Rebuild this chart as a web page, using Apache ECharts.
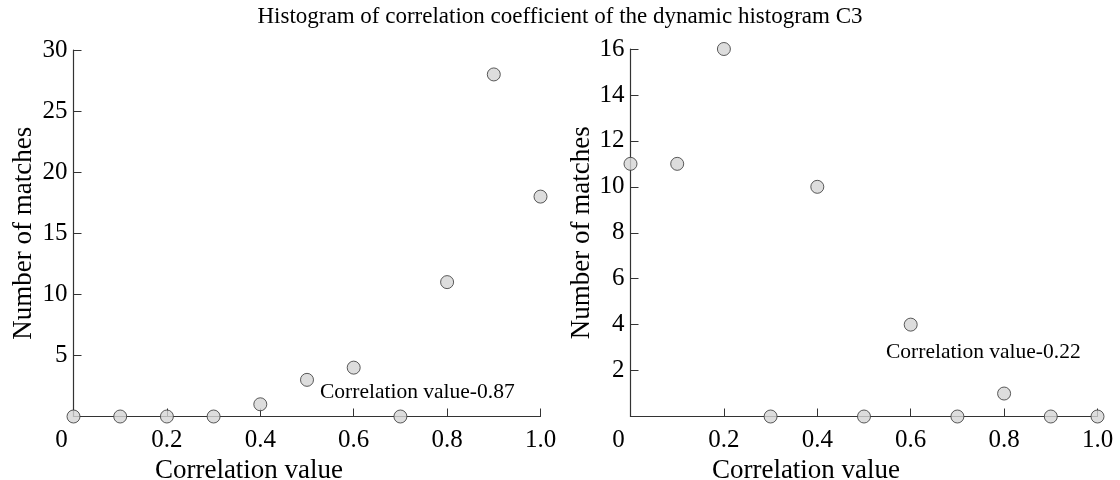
<!DOCTYPE html>
<html>
<head>
<meta charset="utf-8">
<script src="https://cdn.jsdelivr.net/npm/echarts@6/dist/echarts.min.js"></script>
<style>
  html, body { margin: 0; padding: 0; background: #fff; }
  #chart { width: 1120px; height: 480px; }
</style>
</head>
<body>
<div id="chart"></div>
<script>
// Correlation bins shared by both panels
const bins = [0, 0.1, 0.2, 0.3, 0.4, 0.5, 0.6, 0.7, 0.8, 0.9, 1.0];
// Number of matches per bin
const matchesLeft = [0, 0, 0, 0, 1, 3, 4, 0, 11, 28, 18];
const matchesRight = [11, 11, 16, 0, 10, 0, 4, 0, 1, 0, 0];
const xTicks = [0, 0.2, 0.4, 0.6, 0.8, 1.0];
const titleText = 'Histogram of correlation coefficient of the dynamic histogram C3';
const noteLeft = 'Correlation value-0.87';
const noteRight = 'Correlation value-0.22';

const FONT = '"Liberation Serif", "Times New Roman", serif';
const AXIS = '#333';
const TICK_FS = 25;
const NAME_FS = 27;

function pairs(ys) { return bins.map((x, i) => [x, ys[i]]); }

function xAxis(gridIndex) {
  return {
    type: 'value', gridIndex, min: 0, max: 1, interval: 0.2,
    name: 'Correlation value', nameLocation: 'middle', nameGap: 34,
    // name sits a little left of the axis centre
    nameTextStyle: { fontFamily: FONT, fontSize: NAME_FS, color: '#000', padding: [0, 116, 0, 0] },
    axisLine: { show: true, lineStyle: { color: AXIS, width: 1.2 } },
    axisTick: { show: true, inside: true, length: 8, lineStyle: { color: AXIS } },
    splitLine: { show: false },
    axisLabel: {
      fontFamily: FONT, fontSize: TICK_FS, color: '#000', margin: 11,
      formatter: v => v === 0 ? '{z|0}' : (xTicks.includes(+v.toFixed(1)) ? v.toFixed(1) : ''),
      rich: { z: { fontFamily: FONT, fontSize: TICK_FS, color: '#000', padding: [0, 24, 0, 0] } }
    }
  };
}

function yAxis(gridIndex, max, interval, gap) {
  return {
    type: 'value', gridIndex, min: 0, max, interval,
    name: 'Number of matches', nameLocation: 'middle', nameGap: gap, nameRotate: 90,
    nameTextStyle: { fontFamily: FONT, fontSize: NAME_FS, color: '#000' },
    axisLine: { show: true, lineStyle: { color: AXIS, width: 1.2 } },
    axisTick: { show: true, inside: true, length: 8, lineStyle: { color: AXIS } },
    splitLine: { show: false },
    axisLabel: {
      fontFamily: FONT, fontSize: TICK_FS, color: '#000', margin: 6,
      formatter: v => v === 0 ? '' : String(v)
    }
  };
}

function dots(i, ys) {
  return {
    type: 'scatter', xAxisIndex: i, yAxisIndex: i, data: pairs(ys),
    symbol: 'circle', symbolSize: 13,
    itemStyle: { color: '#d4d4d4', borderColor: '#333', borderWidth: 1 },
    z: 5
  };
}

const chart = echarts.init(document.getElementById('chart'), null, { renderer: 'canvas' });
chart.setOption({
  animation: false,
  backgroundColor: '#fff',
  title: {
    text: titleText, left: 'center', top: 0,
    textStyle: { fontFamily: FONT, fontSize: 23, fontWeight: 'normal', color: '#000' }
  },
  grid: [
    { left: 73.5, right: 579.5, top: 50, bottom: 63.5, containLabel: false, outerBoundsMode: 'none' },
    { left: 630.5, right: 22.5, top: 49, bottom: 63.5, containLabel: false, outerBoundsMode: 'none' }
  ],
  xAxis: [xAxis(0), xAxis(1)],
  yAxis: [yAxis(0, 30, 5, 36), yAxis(1, 16, 2, 32)],
  series: [dots(0, matchesLeft), dots(1, matchesRight)],
  graphic: [
    { type: 'text', left: 320, top: 381,
      style: { text: noteLeft, fontFamily: FONT, fontSize: 21.5, fill: '#000' } },
    { type: 'text', left: 886, top: 341,
      style: { text: noteRight, fontFamily: FONT, fontSize: 21.5, fill: '#000' } }
  ]
});
</script>
</body>
</html>
